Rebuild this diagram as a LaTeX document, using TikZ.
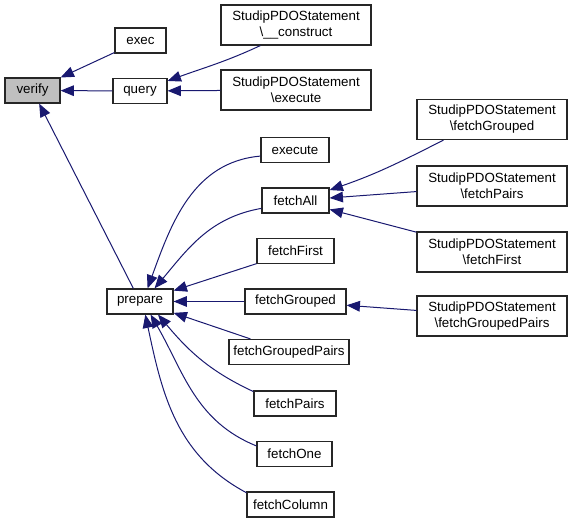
\documentclass[tikz,border=0pt]{standalone}
\usepackage{fontspec}
\setmainfont{Liberation Sans}
\usetikzlibrary{arrows.meta}
\definecolor{edgeblue}{HTML}{191970}

\begin{document}
\begin{tikzpicture}[x=0.75pt, y=0.75pt]
			\tikzstyle{fn} = [draw=black!85, line width=0.9pt, fill=white, inner sep=0pt, minimum height=18.75pt, font=\fontsize{10}{12}\selectfont]
			\tikzstyle{cls} = [fn, minimum width=112.5pt, minimum height=30pt, align=center]
			\tikzstyle{current} = [fn, fill=black!25]
			\tikzstyle{call} = [draw=edgeblue, line width=0.75pt, -{Triangle[length=10pt, width=8pt]}]

			\useasboundingbox (0,0) rectangle (571,-523);

			\node [current, minimum width=41.25pt] (verify) at (32.5,-90.5) {verify};

			\node [fn, minimum width=38.25pt] (exec) at (140.5,-40.5) {exec};
			\draw [call] (exec) -- (verify);

			\node [fn, minimum width=40.5pt] (query) at (140,-91) {query};
			\draw [call] (query) -- (verify);

			\node [fn, minimum width=49.5pt] (prepare) at (140,-301.5) {prepare};
			\draw [call] (prepare) -- (verify);

			\node [cls] (construct) at (296,-25) {StudipPDOStatement\\\textbackslash\_\_construct};
			\draw [call] (construct.210) to [out=205, in=20] (query.20);

			\node [cls] (stmtexec) at (296,-90) {StudipPDOStatement\\\textbackslash execute};
			\draw [call] (stmtexec) -- (query);

			\node [fn, minimum width=51pt] (execute) at (295,-150) {execute};
			\draw [call] (execute.190) to [out=185, in=70] (prepare.60);

			\node [fn, minimum width=50.25pt] (fetchAll) at (295.5,-200.5) {fetchAll};
			\draw [call] (fetchAll.193) to [out=190, in=50] (prepare.42);

			\node [fn, minimum width=57.75pt] (fetchFirst) at (295.5,-251) {fetchFirst};
			\draw [call] (fetchFirst) -- (prepare);

			\node [fn, minimum width=75.75pt] (fetchGrouped) at (295.5,-301.5) {fetchGrouped};
			\draw [call] (fetchGrouped) -- (prepare);

			\node [fn, minimum width=90pt] (fetchGroupedPairs) at (289,-352) {fetchGroupedPairs};
			\draw [call] (fetchGroupedPairs) -- (prepare);

			\node [fn, minimum width=61.5pt] (fetchPairs) at (295,-403.5) {fetchPairs};
			\draw [call] (fetchPairs.164) to [out=155, in=-50] (prepare.-36);

			\node [fn, minimum width=56.25pt] (fetchOne) at (294.5,-454) {fetchOne};
			\draw [call] (fetchOne.168) to [out=158, in=-60] (prepare.-51);

			\node [fn, minimum width=65.25pt] (fetchColumn) at (290.5,-504.5) {fetchColumn};
			\draw [call] (fetchColumn.165) to [out=152, in=-78] (prepare.-68);

			\node [cls] (sFetchGrouped) at (492,-119.5) {StudipPDOStatement\\\textbackslash fetchGrouped};
			\draw [call] (sFetchGrouped.203) to [out=207, in=19] (fetchAll.17);

			\node [cls] (sFetchPairs) at (492,-186) {StudipPDOStatement\\\textbackslash fetchPairs};
			\draw [call] (sFetchPairs) -- (fetchAll);

			\node [cls] (sFetchFirst) at (492,-252) {StudipPDOStatement\\\textbackslash fetchFirst};
			\draw [call] (sFetchFirst) -- (fetchAll);

			\node [cls] (sFetchGroupedPairs) at (492,-316) {StudipPDOStatement\\\textbackslash fetchGroupedPairs};
			\draw [call] (sFetchGroupedPairs) -- (fetchGrouped);
		\end{tikzpicture}
\end{document}
